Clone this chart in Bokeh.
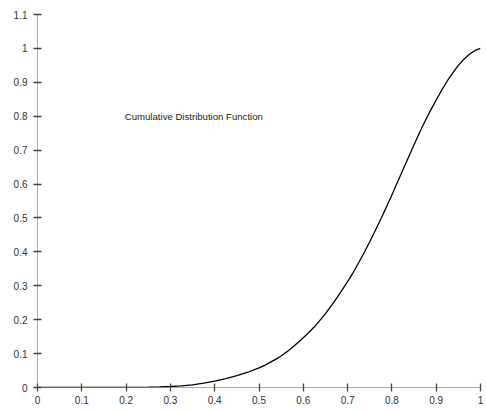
from bokeh.plotting import figure
from bokeh.models import ColumnDataSource, Range1d, Label, FixedTicker
from bokeh.embed import file_html
from bokeh.resources import INLINE

# Values
x_vals = [0.0, 0.05, 0.1, 0.15, 0.2, 0.25, 0.275, 0.3, 0.325, 0.35, 0.375, 0.4,
          0.425, 0.45, 0.475, 0.5, 0.5125, 0.525, 0.5375, 0.55, 0.5625, 0.575,
          0.5875, 0.6, 0.6125, 0.625, 0.6375, 0.65, 0.6625, 0.675, 0.6875, 0.7,
          0.7125, 0.725, 0.7375, 0.75, 0.7625, 0.775, 0.7875, 0.8, 0.8125, 0.825,
          0.8375, 0.85, 0.8625, 0.875, 0.8875, 0.9, 0.9125, 0.925, 0.9375, 0.95,
          0.9625, 0.975, 0.9875, 1.0]
cdf_vals = [0.0, 0.0, 0.0, 0.0, 0.0001, 0.0007, 0.0015, 0.003, 0.005, 0.008, 0.013, 0.019,
            0.026, 0.035, 0.045, 0.058, 0.065, 0.074, 0.083, 0.093, 0.105, 0.118,
            0.132, 0.147, 0.162, 0.179, 0.198, 0.218, 0.240, 0.263, 0.287, 0.312,
            0.339, 0.368, 0.398, 0.430, 0.463, 0.497, 0.532, 0.568, 0.605, 0.642,
            0.679, 0.716, 0.752, 0.786, 0.818, 0.848, 0.877, 0.904, 0.928, 0.950,
            0.968, 0.983, 0.994, 1.0]
x_ticks = [0, 0.1, 0.2, 0.3, 0.4, 0.5, 0.6, 0.7, 0.8, 0.9, 1.0]
y_ticks = [0, 0.1, 0.2, 0.3, 0.4, 0.5, 0.6, 0.7, 0.8, 0.9, 1.0, 1.1]
annotation = "Cumulative Distribution Function"

src = ColumnDataSource(dict(x=x_vals, y=cdf_vals))

p = figure(width=484, height=408, output_backend="svg", toolbar_location=None,
           x_range=Range1d(0, 1), y_range=Range1d(0, 1.1),
           min_border_left=37, min_border_right=4, min_border_top=14, min_border_bottom=21)
p.outline_line_color = None
p.xgrid.visible = False
p.ygrid.visible = False
p.background_fill_color = "white"

p.line("x", "y", source=src, line_color="black", line_width=1.3)

font = "Liberation Sans"
for ax in (p.xaxis[0], p.yaxis[0]):
    ax.axis_line_color = "#555555"
    ax.axis_line_dash = "1 1"
    ax.axis_line_width = 1
    ax.major_tick_in = 4
    ax.major_tick_out = 4
    ax.major_tick_line_color = "#444444"
    ax.major_tick_line_width = 1.3
    ax.minor_tick_line_color = None
    ax.major_label_text_font = font
    ax.major_label_text_font_size = "10px"
    ax.major_label_text_color = "#333333"

p.xaxis[0].ticker = FixedTicker(ticks=x_ticks)
p.yaxis[0].ticker = FixedTicker(ticks=y_ticks)
p.xaxis[0].major_label_standoff = 4
p.yaxis[0].major_label_standoff = 6
p.xaxis[0].major_label_overrides = {t: ("%g" % t) for t in x_ticks}
p.yaxis[0].major_label_overrides = {t: ("%g" % t) for t in y_ticks}

p.add_layout(Label(x=0.197, y=0.798, text=annotation, text_font=font,
                   text_font_size="9.6px", text_color="#222222",
                   text_baseline="middle", text_align="left"))

open("out.html", "w").write(file_html(p, INLINE))
